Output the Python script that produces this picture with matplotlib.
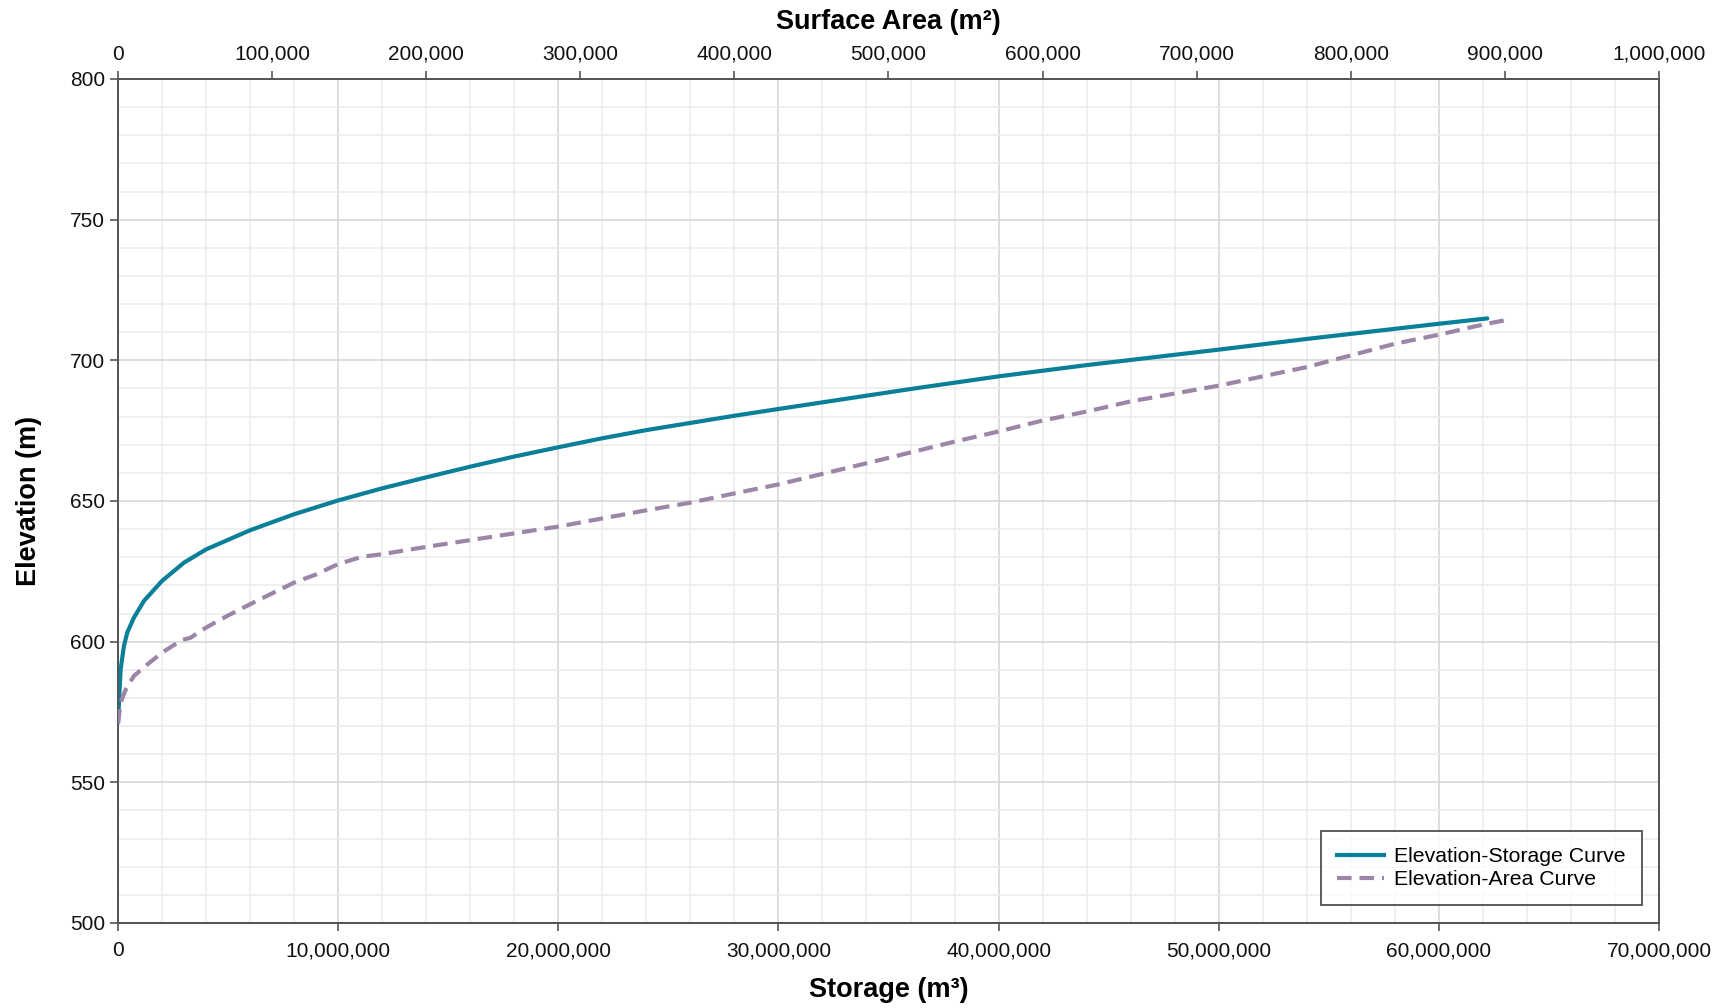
import numpy as np
import matplotlib
matplotlib.use("Agg")
import matplotlib.pyplot as plt
from matplotlib.ticker import MultipleLocator, FuncFormatter
from matplotlib.lines import Line2D

plt.rcParams['font.family'] = ['Liberation Sans', 'DejaVu Sans']

# Elevation-Storage curve (storage in m3, elevation in m)
storage = [0, 50000, 120000, 270000, 420000, 720000, 1180000, 2000000, 3000000,
           4000000, 6000000, 8000000, 10000000, 12000000, 14000000, 16000000,
           18000000, 20000000, 22000000, 24000000, 28000000, 30000000, 36000000,
           40000000, 44000000, 50000000, 54000000, 58000000, 60000000, 62200000]
storage_elev = [571.2, 579.5, 590.2, 598.5, 603.2, 608.5, 614.5, 621.6, 628.1,
                632.8, 639.6, 645.3, 650.2, 654.5, 658.4, 662.2,
                665.8, 669.1, 672.3, 675.2, 680.3, 682.7, 689.8,
                694.3, 698.3, 703.8, 707.6, 711.2, 713.0, 714.9]

# Elevation-Area curve (surface area in m2, elevation in m)
area = [0, 1700, 5000, 10300, 17900, 28600, 41400, 47100, 57100, 70700,
        85700, 100900, 114300, 128600, 142900, 158600, 171400, 200000,
        228600, 257100, 285700, 314300, 342900, 371400, 400000, 428600,
        485700, 542900, 571400, 600000, 628600, 657100, 714300, 771400,
        828600, 857100, 885700, 904300]
area_elev = [570.8, 578.3, 583, 587.8, 591.4, 596.1, 600.6, 601.4, 605, 609.1,
             613.3, 617.4, 621, 623.9, 627.6, 630.2, 631.1, 633.7,
             636.1, 638.5, 640.9, 643.8, 646.7, 649.4, 652.7, 655.9,
             663.4, 671.1, 674.7, 678.6, 681.8, 685.4, 691, 697.6,
             705.9, 709.1, 712.7, 714.7]

teal = '#0A7F98'
lilac = '#9C86A8'
spine_col = '#555555'
lw = 3.0
dash = (3.5, 1.9)

fig = plt.figure(figsize=(17.27, 10.08), dpi=100)
ax = fig.add_axes([118 / 1727, 1 - 923 / 1008, (1659 - 118) / 1727, (923 - 79) / 1008])

ax.set_xlim(0, 70000000)
ax.set_ylim(500, 800)
ax.xaxis.set_major_locator(MultipleLocator(10000000))
ax.xaxis.set_minor_locator(MultipleLocator(2000000))
ax.yaxis.set_major_locator(MultipleLocator(50))
ax.yaxis.set_minor_locator(MultipleLocator(10))
ax.xaxis.set_major_formatter(FuncFormatter(lambda v, p: f'{int(v):,}'))

ax.grid(which='major', color='#d4d4d4', linewidth=1.1)
ax.grid(which='minor', color='#ebebeb', linewidth=1.1)
ax.set_axisbelow(True)

ax.plot(storage, storage_elev, color=teal, linewidth=lw, solid_capstyle='round',
        solid_joinstyle='round', zorder=3)

ax2 = ax.twiny()
ax2.set_xlim(0, 1000000)
ax2.xaxis.set_major_locator(MultipleLocator(100000))
ax2.xaxis.set_major_formatter(FuncFormatter(lambda v, p: f'{int(v):,}'))
ax2.plot(area, area_elev, color=lilac, linewidth=lw, dashes=dash, zorder=3)

for a in (ax, ax2):
    for s in a.spines.values():
        s.set_color(spine_col)
        s.set_linewidth(1.3)
    a.tick_params(which='major', length=6, width=1.2, color=spine_col,
                  labelsize=15, labelcolor='#111111')
    a.tick_params(which='minor', length=0)

ax.tick_params(axis='x', pad=7)
ax2.tick_params(axis='x', pad=5)

ax.set_xlabel('Storage (m³)', fontsize=19.5, fontweight='bold', labelpad=12)
ax2.set_xlabel('Surface Area (m²)', fontsize=19.5, fontweight='bold', labelpad=11)
ax.set_ylabel('Elevation (m)', fontsize=19.5, fontweight='bold', labelpad=20)

handles = [Line2D([], [], color=teal, linewidth=lw),
           Line2D([], [], color=lilac, linewidth=lw, dashes=dash)]
leg = ax.legend(handles, ['Elevation-Storage Curve', 'Elevation-Area Curve'],
                loc='lower right', bbox_to_anchor=(0.989, 0.021), fontsize=15.3,
                frameon=True, fancybox=False, edgecolor='#111111',
                handlelength=2.2, handletextpad=0.5, labelspacing=0.2,
                borderpad=0.75, borderaxespad=0)
leg.get_frame().set_linewidth(1.2)

fig.savefig('out.png', dpi=100)
